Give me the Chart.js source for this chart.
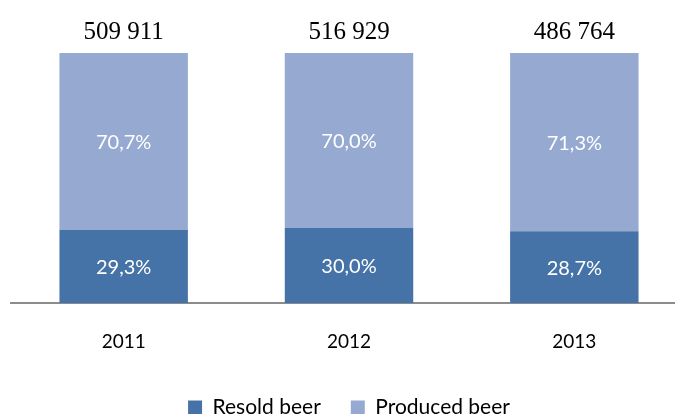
<!DOCTYPE html>
<html>
<head>
<meta charset="utf-8">
<script src="https://cdn.jsdelivr.net/npm/chart.js@4"></script>
<style>
  html, body { margin: 0; padding: 0; background: #fff; overflow: hidden; }
  #wrap { width: 700px; height: 428px; position: relative; }
</style>
</head>
<body>
<div id="wrap"><canvas id="myChart"></canvas></div>
<script>
const years = ['2011', '2012', '2013'];
const totals = ['509 911', '516 929', '486 764'];
const resold = [29.3, 30.0, 28.7];
const produced = [70.7, 70.0, 71.3];

const COLORS = {
  resold: '#4573A7',
  produced: '#95A9D1',
  axis: '#8C8C8C'
};

// percent inside each segment, total above each bar
const barLabels = {
  id: 'barLabels',
  afterDatasetsDraw(chart) {
    const ctx = chart.ctx;
    ctx.save();
    ctx.textAlign = 'center';
    ctx.textBaseline = 'middle';
    chart.data.datasets.forEach((ds, i) => {
      const meta = chart.getDatasetMeta(i);
      meta.data.forEach((bar, j) => {
        const mid = (bar.y + bar.base) / 2;
        ctx.fillStyle = '#fff';
        ctx.font = '20px Lato';
        ctx.fillText(ds.data[j].toFixed(1).replace('.', ',') + '%', bar.x, mid + 1);
      });
    });
    const top = chart.getDatasetMeta(1);
    top.data.forEach((bar, j) => {
      ctx.fillStyle = '#000';
      ctx.font = '25px "Liberation Serif"';
      ctx.fillText(totals[j], bar.x, bar.y - 21);
    });
    ctx.restore();
  }
};

const ctx = document.getElementById('myChart').getContext('2d');
const myChart = new Chart(ctx, {
  type: 'bar',
  data: {
    labels: years,
    datasets: [
      { label: 'Resold beer', data: resold, backgroundColor: COLORS.resold, barPercentage: 0.57, categoryPercentage: 1 },
      { label: 'Produced beer', data: produced, backgroundColor: COLORS.produced, barPercentage: 0.57, categoryPercentage: 1 }
    ]
  },
  options: {
    responsive: true,
    maintainAspectRatio: false,
    animation: false,
    layout: { padding: { top: 53, left: 11, right: 13, bottom: 0 } },
    plugins: {
      legend: {
        position: 'bottom',
        labels: {
          font: { family: 'Lato', size: 21 },
          color: '#000',
          boxWidth: 14,
          boxHeight: 14,
          padding: 30
        }
      },
      tooltip: { enabled: false }
    },
    scales: {
      x: {
        stacked: true,
        grid: { display: false, drawTicks: false },
        border: { display: true, color: COLORS.axis, width: 2 },
        ticks: { font: { family: 'Lato', size: 19 }, color: '#000', padding: 27 },
        afterFit(scale) { scale.height = 64; }
      },
      y: {
        stacked: true,
        min: 0,
        max: 100,
        display: false
      }
    }
  },
  plugins: [barLabels]
});
</script>
</body>
</html>
